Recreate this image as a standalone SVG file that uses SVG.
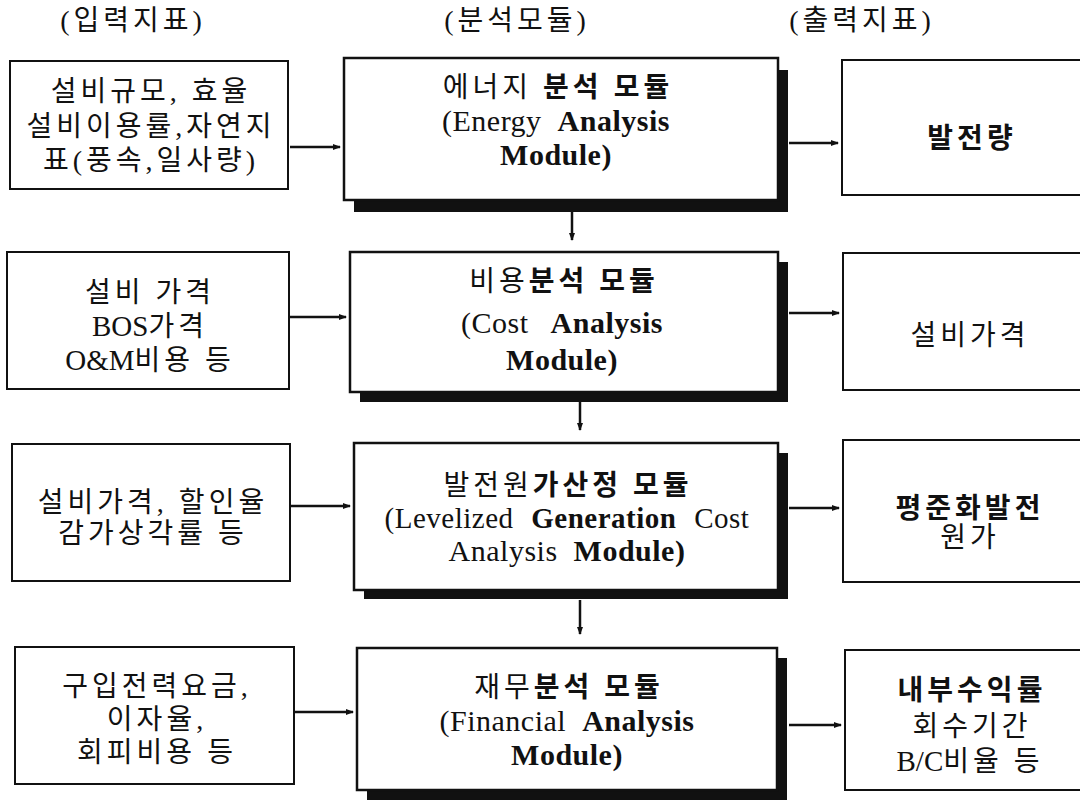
<svg xmlns="http://www.w3.org/2000/svg" width="1080" height="804" viewBox="0 0 1080 804">
<style>
text{font-family:"Liberation Serif","Noto Sans CJK KR",serif;font-size:28px;fill:#111;text-anchor:middle}
.k{letter-spacing:4px}
.l{letter-spacing:0;font-size:29px}
.e{font-size:30px;letter-spacing:0.5px;word-spacing:8px}
.b{font-weight:bold}
.box{fill:#fff;stroke:#111;stroke-width:2}
.mb{fill:#fff;stroke:#111;stroke-width:2.5}
.sh{fill:#111}
.c{stroke:#111;stroke-width:2.5;fill:none}
</style>
<defs>
<marker id="ah" markerWidth="8" markerHeight="8" refX="7" refY="4" orient="auto" markerUnits="userSpaceOnUse"><path d="M0,1 L8,4 L0,7 Z" fill="#111"/></marker>
</defs>
<g id="headers">
<text class="k" x="133" y="30">(입력지표)</text>
<text class="k" x="517" y="30">(분석모듈)</text>
<text class="k" x="862" y="30">(출력지표)</text>
</g>
<g id="connectors">
<line class="c" x1="290" y1="147" x2="340" y2="147" marker-end="url(#ah)"/>
<line class="c" x1="290" y1="317" x2="346" y2="317" marker-end="url(#ah)"/>
<line class="c" x1="291" y1="506" x2="350" y2="506" marker-end="url(#ah)"/>
<line class="c" x1="295" y1="712" x2="353" y2="712" marker-end="url(#ah)"/>
<line class="c" x1="789" y1="143" x2="838" y2="143" marker-end="url(#ah)"/>
<line class="c" x1="789" y1="313" x2="839" y2="313" marker-end="url(#ah)"/>
<line class="c" x1="789" y1="508" x2="839" y2="508" marker-end="url(#ah)"/>
<line class="c" x1="789" y1="725" x2="841" y2="725" marker-end="url(#ah)"/>
<line class="c" x1="572" y1="211" x2="572" y2="240" marker-end="url(#ah)"/>
<line class="c" x1="580" y1="402" x2="580" y2="430" marker-end="url(#ah)"/>
<line class="c" x1="580" y1="600" x2="580" y2="634" marker-end="url(#ah)"/>
</g>
<g id="in1"><rect class="box" x="10" y="61" width="278" height="128"/>
<text class="k" x="151" y="101">설비규모, 효율</text><text class="k" x="151" y="136">설비이용률,자연지</text><text class="k" x="151" y="170">표(풍속,일사량)</text></g>
<g id="in2"><rect class="box" x="7" y="252" width="282" height="137"/>
<text class="k" x="150" y="302">설비 가격</text><text class="k" x="150" y="336"><tspan class="l">BOS</tspan>가격</text><text class="k" x="150" y="370"><tspan class="l">O&amp;M</tspan>비용 등</text></g>
<g id="in3"><rect class="box" x="12" y="444" width="278" height="137"/>
<text class="k" x="153" y="512">설비가격, 할인율</text><text class="k" x="153" y="543">감가상각률 등</text></g>
<g id="in4"><rect class="box" x="15" y="647" width="279" height="137"/>
<text class="k" x="157" y="696">구입전력요금,</text><text class="k" x="157" y="729">이자율,</text><text class="k" x="157" y="762">회피비용 등</text></g>
<g id="mod1"><rect class="sh" x="354" y="70" width="434" height="142"/><rect class="mb" x="344" y="58" width="434" height="142"/>
<text class="k" x="558" y="97">에너지 <tspan class="b">분석 모듈</tspan></text><text class="e" x="556" y="131">(Energy <tspan class="b">Analysis</tspan></text><text class="e b" x="556" y="165">Module)</text></g>
<g id="mod2"><rect class="sh" x="360" y="262" width="428" height="140"/><rect class="mb" x="350" y="252" width="428" height="140"/>
<text class="k" x="564" y="291">비용<tspan class="b">분석 모듈</tspan></text><text class="e" x="562" y="333" style="word-spacing:14px">(Cost <tspan class="b">Analysis</tspan></text><text class="e b" x="562" y="370">Module)</text></g>
<g id="mod3"><rect class="sh" x="364" y="453" width="424" height="146"/><rect class="mb" x="354" y="443" width="424" height="147"/>
<text class="k" x="568" y="495">발전원<tspan class="b">가산정 모듈</tspan></text><text class="e" x="567" y="528" style="font-size:29px;word-spacing:10px">(Levelized <tspan class="b">Generation</tspan> Cost</text><text class="e" x="567" y="561">Analysis <tspan class="b">Module)</tspan></text></g>
<g id="mod4"><rect class="sh" x="367" y="658" width="420" height="142"/><rect class="mb" x="357" y="648" width="420" height="142"/>
<text class="k" x="569" y="697">재무<tspan class="b">분석 모듈</tspan></text><text class="e" x="567" y="731">(Financial <tspan class="b">Analysis</tspan></text><text class="e b" x="567" y="765">Module)</text></g>
<g id="out1"><rect class="box" x="842" y="60" width="260" height="135"/>
<text class="k b" x="972" y="148">발전량</text></g>
<g id="out2"><rect class="box" x="843" y="253" width="260" height="137"/>
<text class="k" x="970" y="345">설비가격</text></g>
<g id="out3"><rect class="box" x="843" y="440" width="260" height="142"/>
<text class="k b" x="970" y="518">평준화발전</text><text class="k" x="970" y="547">원가</text></g>
<g id="out4"><rect class="box" x="845" y="650" width="260" height="140"/>
<text class="k b" x="972" y="700">내부수익률</text><text class="k" x="972" y="736">회수기간</text><text class="k" x="970" y="771"><tspan class="l">B/C</tspan>비율 등</text></g>
</svg>
